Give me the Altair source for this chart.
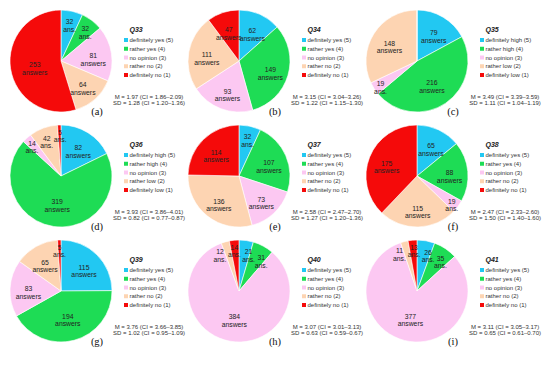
import math
import altair as alt
import pandas as pd

questions = ["Q33", "Q34", "Q35", "Q36", "Q37", "Q38", "Q39", "Q40", "Q41"]
letters = ["(a)", "(b)", "(c)", "(d)", "(e)", "(f)", "(g)", "(h)", "(i)"]
yes_no = ["definitely yes (5)", "rather yes (4)", "no opinion (3)", "rather no (2)", "definitely no (1)"]
high_low = ["definitely high (5)", "rather high (4)", "no opinion (3)", "rather low (2)", "definitely low (1)"]
scale_kind = ["yn", "yn", "hl", "hl", "yn", "yn", "yn", "yn", "yn"]

q33 = [32, 32, 81, 64, 253]
q34 = [62, 149, 93, 111, 47]
q35 = [79, 216, 19, 148, 0]
q36 = [82, 319, 14, 42, 5]
q37 = [32, 107, 73, 136, 114]
q38 = [65, 88, 19, 115, 175]
q39 = [115, 194, 83, 65, 5]
q40 = [21, 31, 384, 12, 14]
q41 = [26, 35, 377, 11, 13]
all_counts = [q33, q34, q35, q36, q37, q38, q39, q40, q41]

means = ["1.97", "3.15", "3.49", "3.93", "2.58", "2.47", "3.76", "3.07", "3.11"]
mean_ci = ["1.86–2.09", "3.04–3.26", "3.39–3.59", "3.86–4.01", "2.47–2.70",
           "2.33–2.60", "3.66–3.85", "3.01–3.13", "3.05–3.17"]
sds = ["1.28", "1.22", "1.11", "0.82", "1.27", "1.50", "1.02", "0.63", "0.65"]
sd_ci = ["1.20–1.36", "1.15–1.30", "1.04–1.19", "0.77–0.87", "1.20–1.36",
         "1.40–1.60", "0.95–1.09", "0.59–0.67", "0.61–0.70"]

colors = ["#22c8f2", "#1edc55", "#fcc8f2", "#fdd4b2", "#f50a0a"]

# layout constants
W, H = 178, 115
CX, CY, R = 53, 52, 51
LEG_X, LEG_Y0, LEG_DY = 118, 31, 8.75
FONT = "Liberation Sans"
SMALL = 45          # slices below this many answers get the short "ans." label
TINY = 20
MIN_SEP_DEG = 20.0  # minimum angular gap between neighbouring small-slice labels

color_enc = alt.Color("idx:O", scale=alt.Scale(domain=[0, 1, 2, 3, 4], range=colors), legend=None)


def label_shifts(counts):
    """Spread apart neighbouring labels of thin slices so they don't collide."""
    total = sum(counts)
    mids, cum = [], 0
    for c in counts:
        mids.append((cum + c / 2) / total * 360)
        cum += c
    small = [k for k, c in enumerate(counts) if 0 < c < SMALL]
    ang = {k: mids[k] for k in small}
    if len(small) > 1:
        for _ in range(60):
            order = sorted(small, key=lambda k: ang[k] % 360)
            pairs = list(zip(order[:-1], order[1:])) + [(order[-1], order[0])]
            for a, b in pairs:
                gap = (ang[b] - ang[a]) % 360
                if gap < MIN_SEP_DEG:
                    push = (MIN_SEP_DEG - gap) / 2
                    ang[a] -= push
                    ang[b] += push
    return [((ang[k] - mids[k]) / 360 * total) if k in ang else 0.0 for k in range(len(counts))]


def panel(i):
    counts = all_counts[i]
    labels = yes_no if scale_kind[i] == "yn" else high_low
    total = sum(counts)
    lab, lr = [], []
    for c in counts:
        if c == 0:
            lab.append("")
        elif c < SMALL:
            lab.append(f"{c}\nans.")
        else:
            lab.append(f"{c}\nanswers")
        if c < TINY:
            lr.append(R * 0.85)
        elif c < SMALL:
            lr.append(R * 0.78)
        elif c / total > 0.4:
            lr.append(R * 0.52)
        else:
            lr.append(R * 0.64)
    df = pd.DataFrame({"cat": labels, "count": counts, "idx": list(range(5)),
                       "label": lab, "lr": lr, "shift": label_shifts(counts)})
    df["ly"] = LEG_Y0 + df["idx"] * LEG_DY
    base = alt.Chart(df)
    tscale = alt.Scale(domain=[0, total], range=[0, 2 * math.pi], nice=False, zero=True)
    pie = base.mark_arc(radius=R, stroke="white", strokeWidth=0.6).encode(
        x=alt.value(CX), y=alt.value(CY),
        theta=alt.Theta("count:Q", stack=True, scale=tscale),
        color=color_enc,
        order=alt.Order("idx:Q"),
    )
    txt = base.transform_window(
        cum="sum(count)", sort=[alt.SortField("idx", order="ascending")], frame=[None, 0]
    ).transform_calculate(
        mid="(datum.cum - datum.count / 2 + datum.shift + %d) %% %d" % (total, total)
    ).mark_text(
        lineBreak="\n", fontSize=6.8, font=FONT, color="#222222", lineHeight=7.6).encode(
        x=alt.value(CX), y=alt.value(CY),
        theta=alt.Theta("mid:Q", stack=None, scale=tscale),
        radius=alt.Radius("lr:Q", scale=None),
        text="label:N",
    )
    yenc = alt.Y("ly:Q", scale=None, axis=None)
    sq = base.mark_square(size=16, opacity=1).encode(
        x=alt.value(LEG_X), y=yenc, color=color_enc)
    legtxt = base.mark_text(align="left", baseline="middle", fontSize=6, font=FONT,
                            color="#333333").encode(
        x=alt.value(LEG_X + 3.5), y=yenc, text="cat:N")
    title = alt.Chart(pd.DataFrame({"t": [questions[i]]})).mark_text(
        align="left", baseline="middle", fontSize=7, font=FONT, fontWeight="bold",
        fontStyle="italic", color="#222222").encode(
        x=alt.value(LEG_X + 3.5), y=alt.value(21), text="t:N")
    stats = alt.Chart(pd.DataFrame({
        "t": [f"M = {means[i]} (CI = {mean_ci[i]})\nSD = {sds[i]} (CI = {sd_ci[i]})"]})).mark_text(
        align="center", baseline="middle", fontSize=6, font=FONT, color="#333333",
        lineBreak="\n", lineHeight=6.8).encode(
        x=alt.value(141), y=alt.value(87.5), text="t:N")
    letter = alt.Chart(pd.DataFrame({"t": [letters[i]]})).mark_text(
        align="center", baseline="middle", fontSize=10.5, font="Liberation Serif",
        color="#111111").encode(
        x=alt.value(89), y=alt.value(103), text="t:N")
    return alt.layer(pie, txt, sq, legtxt, title, stats, letter).properties(width=W, height=H)


chart = alt.concat(*[panel(i) for i in range(9)], columns=3, spacing=0, bounds="flush").properties(
    padding=0).configure_view(stroke=None).configure_concat(spacing=0)

chart.save("out.html", embed_options={"renderer": "svg", "actions": False})
